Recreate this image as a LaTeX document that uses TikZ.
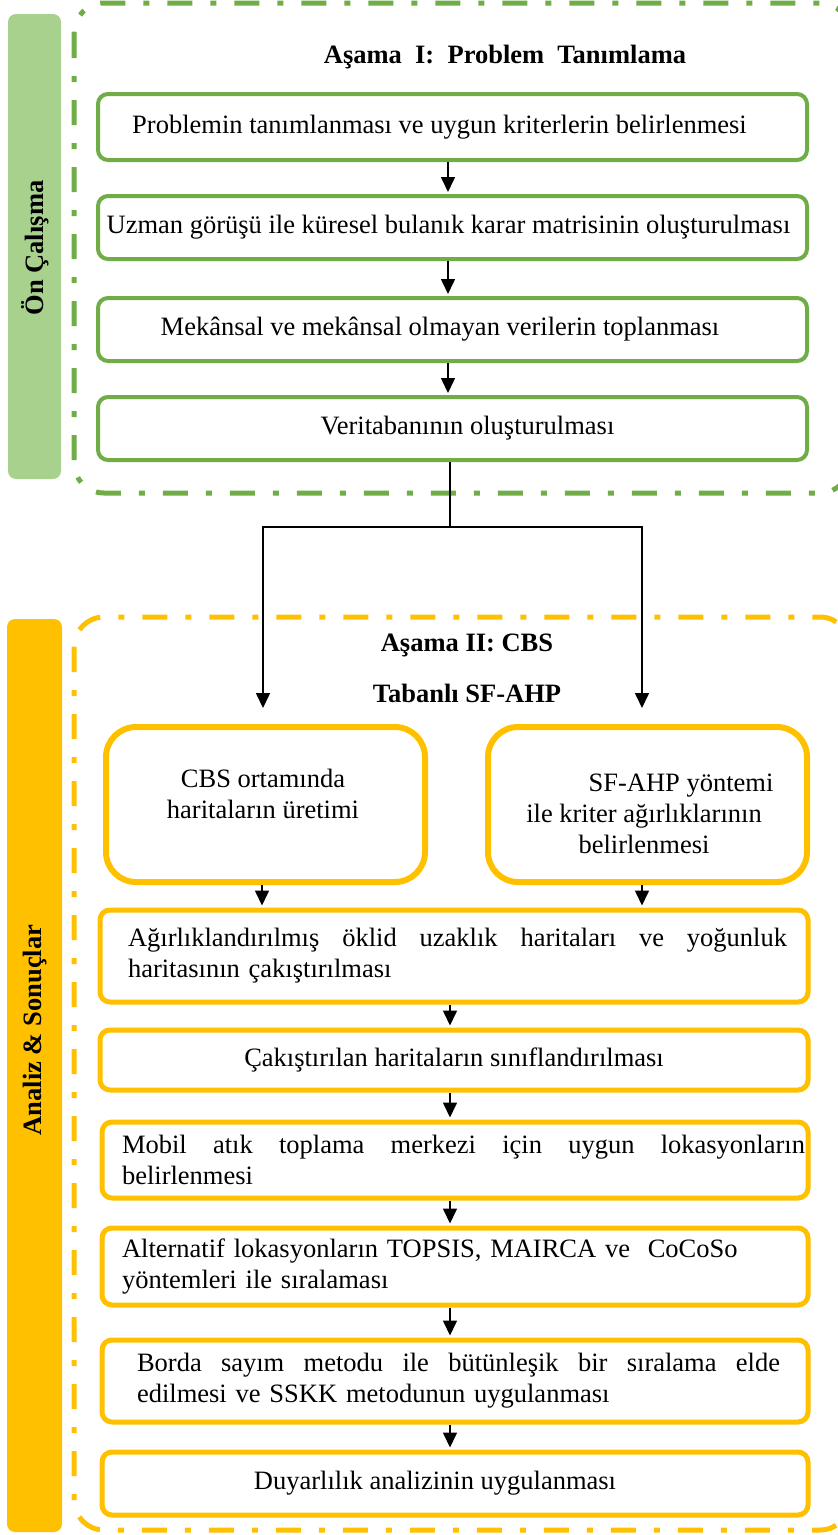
\documentclass[tikz,border=0pt]{standalone}
\usepackage{fontspec}
\setmainfont{Liberation Serif}
\usetikzlibrary{arrows.meta}
\definecolor{gline}{HTML}{70AD47}
\definecolor{gfill}{HTML}{A9D18E}
\definecolor{oline}{HTML}{FFC000}
\newcommand\txtfs{\fontsize{26.5}{31}\selectfont}
\begin{document}
\begin{tikzpicture}[x=1pt,y=-1pt,
  gbox/.style={draw=gline,line width=4pt,rounded corners=10pt,inner sep=0pt,font=\txtfs},
  obox/.style={draw=oline,line width=5pt,rounded corners=10pt,inner sep=0pt,font=\txtfs},
  bigbox/.style={draw=oline,line width=6pt,rounded corners=30pt,inner sep=0pt},
  txt/.style={font=\txtfs,inner sep=0pt},
  ttl/.style={font=\txtfs\bfseries,inner sep=0pt},
  arr/.style={line width=1.6pt,-{Triangle[length=15pt,width=14pt]},shorten >=2pt},
  thinline/.style={line width=1.6pt},
  cont/.style={line width=5pt,dash pattern=on 25pt off 18pt on 6pt off 18pt,rounded corners=30pt},
  sidebar/.style={rounded corners=8pt}]
\useasboundingbox (0,0) rectangle (838,1535);
\clip (0,0) rectangle (838,1535);

% side bars
\fill[gfill,sidebar] (8,14) rectangle (61,479);
\node[ttl,rotate=90] (sideG) at (35,248) {Ön Çalışma};
\fill[oline,sidebar] (7,619) rectangle (62,1532);
\node[ttl,rotate=90] (sideO) at (35,1030) {Analiz \& Sonuçlar};

% containers
\draw[gline,cont] (74,3) rectangle (850,493);
\draw[oline,cont] (74,617) rectangle (850,1530);

% stage I
\node[ttl] (t1) at (505,57) {Aşama~~I:~~Problem~~Tanımlama};
\node[gbox,minimum width=709pt,minimum height=66pt] (g1) at (452.5,127) {\hspace*{-26pt}Problemin tanımlanması ve uygun kriterlerin belirlenmesi};
\node[gbox,minimum width=709pt,minimum height=63pt] (g2) at (452.5,227.5) {\hspace*{-8pt}Uzman görüşü ile küresel bulanık karar matrisinin oluşturulması};
\node[gbox,minimum width=709pt,minimum height=63pt] (g3) at (452.5,329.5) {\hspace*{-25pt}Mekânsal ve mekânsal olmayan verilerin toplanması};
\node[gbox,minimum width=709pt,minimum height=63pt] (g4) at (452.5,428.5) {\hspace*{30pt}Veritabanının oluşturulması};

\coordinate (gx) at (448,0);
\draw[arr] (g1.south -| gx) -- (g2.north -| gx);
\draw[arr] (g2.south -| gx) -- (g3.north -| gx);
\draw[arr] (g3.south -| gx) -- (g4.north -| gx);

% split
\coordinate (sp) at (450,527);
\coordinate (tL) at (263,710);
\coordinate (tR) at (642,710);
\draw[thinline] (g4.south -| sp) -- (sp);
\draw[arr] (sp) -| (tL);
\draw[arr] (sp) -| (tR);

% stage II
\node[ttl] (t2a) at (467,645) {Aşama II: CBS};
\node[ttl] (t2b) at (467,693) {Tabanlı SF-AHP};

\node[bigbox,minimum width=319pt,minimum height=155pt] (cbs) at (265.5,804.5) {};
\node[txt,align=center] (cbsT) at (263,794) {CBS ortamında\\haritaların üretimi};
\node[bigbox,minimum width=319pt,minimum height=155pt] (sf) at (647.5,804.5) {};
\node[txt,align=center] (sfT) at (644,813.5) {\hspace*{74pt}SF-AHP yöntemi\\ile kriter ağırlıklarının\\belirlenmesi};

\node[obox,minimum width=708pt,minimum height=92pt,text width=700pt,align=left] (o5) at (454,956)
  {\hspace*{24pt}\makebox[659pt][l]{Ağırlıklandırılmış\hfill öklid\hfill uzaklık\hfill haritaları\hfill ve\hfill yoğunluk}\\\hspace*{24pt}haritasının çakıştırılması};
\node[obox,minimum width=708pt,minimum height=60pt] (o6) at (454,1060) {Çakıştırılan haritaların sınıflandırılması};
\node[obox,minimum width=706pt,minimum height=76pt,text width=700pt,align=left] (o7) at (455,1160)
  {\hspace*{17pt}\makebox[683pt][l]{Mobil\hfill atık\hfill toplama\hfill merkezi\hfill için\hfill uygun\hfill lokasyonların}\\\hspace*{17pt}belirlenmesi};
\node[obox,minimum width=706pt,minimum height=77pt,text width=700pt,align=left] (o8) at (455,1266.5)
  {\hspace*{17pt}Alternatif lokasyonların TOPSIS, MAIRCA ve~~CoCoSo\\\hspace*{17pt}yöntemleri ile sıralaması};
\node[obox,minimum width=706pt,minimum height=82pt,text width=700pt,align=left] (o9) at (455,1381)
  {\hspace*{32pt}\makebox[643pt][l]{Borda\hfill sayım\hfill metodu\hfill ile\hfill bütünleşik\hfill bir\hfill sıralama\hfill elde}\\\hspace*{32pt}edilmesi ve SSKK metodunun uygulanması};
\node[obox,minimum width=706pt,minimum height=63pt] (o10) at (455,1483.5) {\hspace*{-40pt}Duyarlılık analizinin uygulanması};

\coordinate (cx) at (262,0);
\coordinate (sx) at (642,0);
\coordinate (ox) at (450,0);
\draw[arr] (cbs.south -| cx) -- (o5.north -| cx);
\draw[arr] (sf.south -| sx) -- (o5.north -| sx);
\draw[arr] (o5.south -| ox) -- (o6.north -| ox);
\draw[arr] (o6.south -| ox) -- (o7.north -| ox);
\draw[arr] (o7.south -| ox) -- (o8.north -| ox);
\draw[arr] (o8.south -| ox) -- (o9.north -| ox);
\draw[arr] (o9.south -| ox) -- (o10.north -| ox);
\end{tikzpicture}
\end{document}
